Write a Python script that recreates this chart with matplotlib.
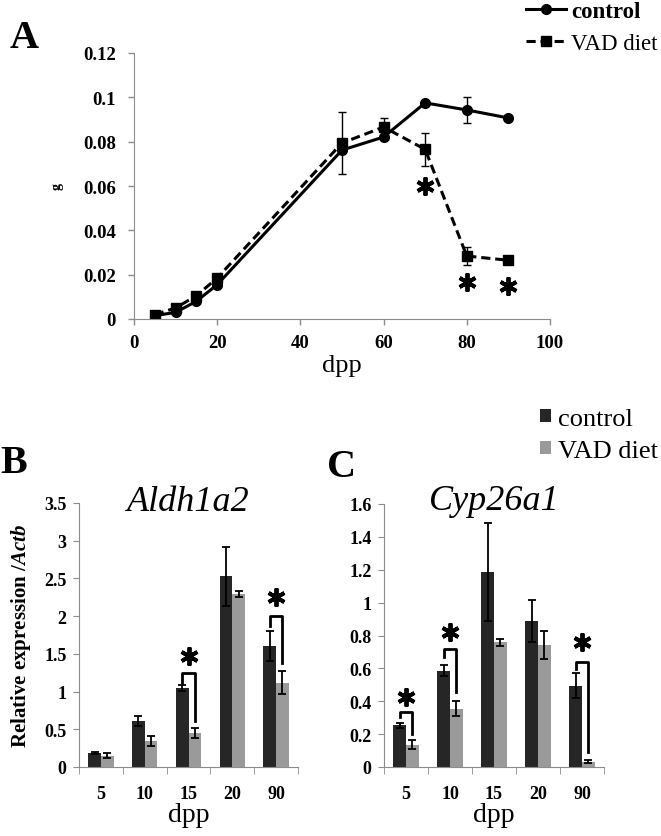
import numpy as np
import matplotlib
matplotlib.use('Agg')
import matplotlib.pyplot as plt
from matplotlib.ticker import FuncFormatter

plt.rcParams['font.family'] = ['Liberation Serif', 'DejaVu Serif']
plt.rcParams['mathtext.fontset'] = 'custom'
plt.rcParams['mathtext.it'] = 'Liberation Serif:italic:bold'

# panel A data
days = [5, 10, 15, 20, 50, 60, 70, 80, 90]
ctrl_a = [0.0015, 0.003, 0.008, 0.0155, 0.0762, 0.0821, 0.0975, 0.0943, 0.0907]
ctrl_a_err = [0, 0.0005, 0.001, 0.001, 0, 0, 0, 0.006, 0.001]
vad_a = [0.002, 0.005, 0.0105, 0.0185, 0.0794, 0.0866, 0.0765, 0.0284, 0.0265]
vad_a_err = [0, 0.0005, 0.001, 0.001, 0.014, 0.004, 0.0075, 0.004, 0]
star_a_x = [70, 80, 90]
star_a_y = [0.060, 0.0165, 0.015]

# panels B and C data
groups = ['5', '10', '15', '20', '90']
ctrl_b = [0.186, 0.61, 1.047, 2.53, 1.60]
ctrl_b_err = [0.012, 0.066, 0.04, 0.39, 0.2]
vad_b = [0.15, 0.34, 0.45, 2.29, 1.12]
vad_b_err = [0.03, 0.065, 0.066, 0.04, 0.15]
sig_b = [2, 4]
brk_b_top = [1.242, 1.998]
brk_b_left = [1.12, 1.873]
brk_b_right = [0.614, 1.379]
star_b = [1.476, 2.25]

ctrl_c = [0.253, 0.587, 1.187, 0.888, 0.495]
ctrl_c_err = [0.017, 0.033, 0.30, 0.125, 0.077]
vad_c = [0.136, 0.354, 0.758, 0.742, 0.032]
vad_c_err = [0.027, 0.045, 0.02, 0.085, 0.008]
sig_c = [0, 1, 4]
brk_c_top = [0.334, 0.715, 0.64]
brk_c_left = [0.304, 0.668, 0.596]
brk_c_right = [0.2, 0.456, 0.093]
star_c = [0.425, 0.82, 0.76]

dark = '#262626'
light = '#9a9a9a'
spine_col = '#8c8c8c'

fig = plt.figure(figsize=(6.61, 8.37), dpi=100)

star_marker = (6, 2, 0)

# ---------- panel A ----------
axa = fig.add_axes([134 / 661, 1 - 320 / 837, 416 / 661, 266 / 837])
l1 = axa.errorbar(days, ctrl_a, yerr=ctrl_a_err, fmt='-o', color='black', lw=2.2,
                  ms=7, capsize=3, elinewidth=1, capthick=1, label='control')
l2 = axa.errorbar(days, vad_a, yerr=vad_a_err, fmt='--s', color='black', lw=2.2,
                  ms=7, capsize=3, elinewidth=1, capthick=1, dashes=(3, 1.6), label='VAD diet')
axa.plot(star_a_x, star_a_y, linestyle='none', marker=star_marker, ms=13, mew=2.8, color='black')
axa.set_xlim(0, 100)
axa.set_ylim(0, 0.12)
axa.set_xticks(np.arange(0, 101, 20))
axa.set_yticks(np.arange(0, 0.121, 0.02))
axa.yaxis.set_major_formatter(FuncFormatter(lambda v, p: f'{v:.2f}'.rstrip('0').rstrip('.') if v else '0'))
for s in ['top', 'right']:
    axa.spines[s].set_visible(False)
for s in ['left', 'bottom']:
    axa.spines[s].set_color(spine_col)
axa.tick_params(axis='both', colors=spine_col, length=4, width=1)
axa.tick_params(axis='x', pad=7)
axa.tick_params(axis='y', pad=9)
for t in axa.get_xticklabels() + axa.get_yticklabels():
    t.set_fontweight('bold')
    t.set_fontsize(13.5)
    t.set_color('black')
axa.set_xlabel('dpp', fontsize=19, labelpad=2)
axa.set_ylabel('g', fontsize=10, fontweight='bold', labelpad=14)

leg = fig.legend([l1[0], l2[0]], ['control', 'VAD diet'], loc='upper left',
                 bbox_to_anchor=(524 / 661, 1.0), frameon=False, fontsize=16.5,
                 handlelength=1.75, handletextpad=0.2, borderpad=0.1,
                 borderaxespad=0, labelspacing=0.45)
leg.get_texts()[0].set_fontweight('bold')

fig.text(10 / 661, 1 - 48 / 837, 'A', fontsize=29, fontweight='bold')


# ---------- panels B and C ----------
def bar_panel(rect, ctrl, ctrl_err, vad, vad_err, ymax, ystep, title, title_y,
              sig, top, left, right, stars):
    ax = fig.add_axes(rect)
    x = np.arange(len(groups))
    w = 0.29
    b1 = ax.bar(x - w / 2, ctrl, w, color=dark, label='control')
    b2 = ax.bar(x + w / 2, vad, w, color=light, label='VAD diet')
    ax.errorbar(x - w / 2, ctrl, yerr=ctrl_err, fmt='none', ecolor='black',
                elinewidth=1.3, capsize=3, capthick=1.3)
    ax.errorbar(x + w / 2, vad, yerr=vad_err, fmt='none', ecolor='black',
                elinewidth=1.3, capsize=3, capthick=1.3)
    for i, tp, lf, rt, st in zip(sig, top, left, right, stars):
        ax.plot([x[i] - w / 2, x[i] - w / 2, x[i] + w / 2, x[i] + w / 2],
                [lf, tp, tp, rt], color='black', lw=2)
        ax.plot([x[i]], [st], linestyle='none', marker=star_marker, ms=13, mew=2.8,
                color='black')
    ax.set_xlim(-0.5, len(groups) - 0.5)
    ax.set_ylim(0, ymax)
    ax.set_yticks(np.arange(0, ymax + 1e-9, ystep))
    ax.yaxis.set_major_formatter(FuncFormatter(lambda v, p: f'{v:g}'))
    ax.set_xticks(x)
    ax.set_xticklabels(groups)
    ax.set_xticks(np.arange(len(groups) + 1) - 0.5, minor=True)
    for s in ['top', 'right']:
        ax.spines[s].set_visible(False)
    for s in ['left', 'bottom']:
        ax.spines[s].set_color(spine_col)
    ax.tick_params(axis='x', which='major', length=0, pad=13)
    ax.tick_params(axis='x', which='minor', length=5, color=spine_col)
    ax.tick_params(axis='y', length=4, color=spine_col, pad=5)
    for t in ax.get_xticklabels() + ax.get_yticklabels():
        t.set_fontweight('bold')
        t.set_fontsize(13)
    ax.set_xlabel('dpp', fontsize=20, labelpad=0)
    ax.text(0.5, title_y, title, transform=ax.transAxes, ha='center', va='baseline',
            fontsize=26, fontstyle='italic')
    return ax, b1, b2


axb, _, _ = bar_panel([79 / 661, 1 - 768 / 837, 219 / 661, 264 / 837],
                      ctrl_b, ctrl_b_err, vad_b, vad_b_err, 3.5, 0.5, 'Aldh1a2', 0.973,
                      sig_b, brk_b_top, brk_b_left, brk_b_right, star_b)
axb.set_ylabel(r'Relative expression /$\mathit{Actb}$', fontsize=15,
               fontweight='bold', labelpad=8)

axc, h1, h2 = bar_panel([384 / 661, 1 - 768 / 837, 220 / 661, 263 / 837],
                        ctrl_c, ctrl_c_err, vad_c, vad_c_err, 1.6, 0.2, 'Cyp26a1', 0.981,
                        sig_c, brk_c_top, brk_c_left, brk_c_right, star_c)

fig.legend([h1, h2], ['control', 'VAD diet'], loc='upper left',
           bbox_to_anchor=(540 / 661, 1 - 409 / 837), frameon=False, fontsize=19,
           handlelength=0.42, handleheight=0.42, handletextpad=0.25, borderpad=0,
           borderaxespad=0, labelspacing=0.38)

fig.text(0 / 661, 1 - 473 / 837, 'B', fontsize=29, fontweight='bold')
fig.text(327 / 661, 1 - 477 / 837, 'C', fontsize=29, fontweight='bold')

fig.savefig('out.png', dpi=100)
